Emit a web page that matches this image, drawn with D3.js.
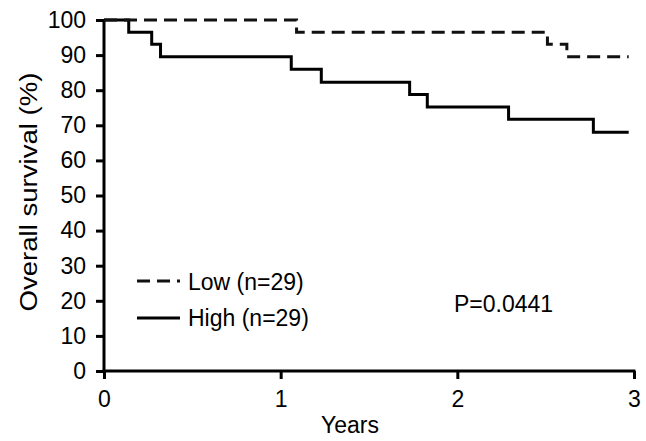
<!DOCTYPE html>
<html>
<head>
<meta charset="utf-8">
<script src="https://cdn.jsdelivr.net/npm/d3@7"></script>
<style>
  html, body { margin: 0; padding: 0; background: #fff; }
  svg { display: block; font-family: "Liberation Sans", Arial, Helvetica, sans-serif; }
</style>
</head>
<body>
<svg id="chart" width="646" height="441"></svg>
<script>
// Step data: [time (years), survival (%)]
const lowTimes  = [0, 1.09, 2.51, 2.62, 2.97];
const lowValues = [100, 96.5, 93.1, 89.5, 89.5];
const highTimes  = [0, 0.14, 0.27, 0.32, 1.06, 1.23, 1.73, 1.83, 2.29, 2.77, 2.97];
const highValues = [100, 96.5, 93.1, 89.5, 86.0, 82.3, 78.8, 75.2, 71.7, 68.0, 68.0];
const xTicks = [0, 1, 2, 3];
const yTicks = [0, 10, 20, 30, 40, 50, 60, 70, 80, 90, 100];
const seriesLabels = ["Low (n=29)", "High (n=29)"];
const pValueText = "P=0.0441";

const svg = d3.select("#chart");
const FS = "23px";

const x = d3.scaleLinear().domain([0, 3]).range([104, 634]);
const y = d3.scaleLinear().domain([0, 100]).range([371, 20]);

const line = d3.line().x(d => x(d[0])).y(d => y(d[1])).curve(d3.curveStepAfter);

const lowData = lowTimes.map((t, i) => [t, lowValues[i]]);
const highData = highTimes.map((t, i) => [t, highValues[i]]);

// Axes
const xAxis = svg.append("g")
  .attr("transform", `translate(0,${y(0)})`)
  .call(d3.axisBottom(x).tickValues(xTicks).tickFormat(d3.format("d"))
    .tickSize(8).tickPadding(12).tickSizeOuter(0));
const yAxis = svg.append("g")
  .attr("transform", `translate(${x(0)},0)`)
  .call(d3.axisLeft(y).tickValues(yTicks).tickFormat(d3.format("d"))
    .tickSize(8).tickPadding(10).tickSizeOuter(0));

[xAxis, yAxis].forEach(g => {
  g.select(".domain").attr("stroke", "#000").attr("stroke-width", 3);
  g.selectAll(".tick line").attr("stroke", "#000").attr("stroke-width", 3);
  g.selectAll(".tick text").attr("fill", "#000").style("font-size", FS)
    .style("font-family", "'Liberation Sans', Arial, Helvetica, sans-serif");
});
xAxis.select(".domain").attr("d", `M${x(0) - 1.5},0H${x(3) + 1.5}`);
yAxis.select(".domain").attr("d", `M0,${y(0) + 1.5}V${y(100)}`);

// Curves
svg.append("path").datum(highData)
  .attr("d", line).attr("fill", "none").attr("stroke", "#000")
  .attr("stroke-width", 3);
svg.append("path").datum(lowData)
  .attr("d", line).attr("fill", "none").attr("stroke", "#111")
  .attr("stroke-width", 3).attr("stroke-dasharray", "13,7");

// Axis titles
svg.append("text")
  .attr("x", 350).attr("y", 433)
  .attr("text-anchor", "middle").style("font-size", FS).text("Years");
svg.append("text")
  .attr("transform", `translate(37,192) rotate(-90)`)
  .attr("text-anchor", "middle").style("font-size", FS)
  .attr("textLength", 239).attr("lengthAdjust", "spacingAndGlyphs")
  .text("Overall survival (%)");

// Legend
const legend = svg.append("g");
legend.append("line").attr("x1", 137).attr("x2", 180).attr("y1", 281).attr("y2", 281)
  .attr("stroke", "#111").attr("stroke-width", 3).attr("stroke-dasharray", "13,7");
legend.append("text").attr("x", 188).attr("y", 290).style("font-size", FS).text(seriesLabels[0]);
legend.append("line").attr("x1", 137).attr("x2", 180).attr("y1", 318).attr("y2", 318)
  .attr("stroke", "#000").attr("stroke-width", 3);
legend.append("text").attr("x", 188).attr("y", 326).style("font-size", FS).text(seriesLabels[1]);

svg.append("text").attr("x", 454).attr("y", 312).style("font-size", FS).text(pValueText);
</script>
</body>
</html>
